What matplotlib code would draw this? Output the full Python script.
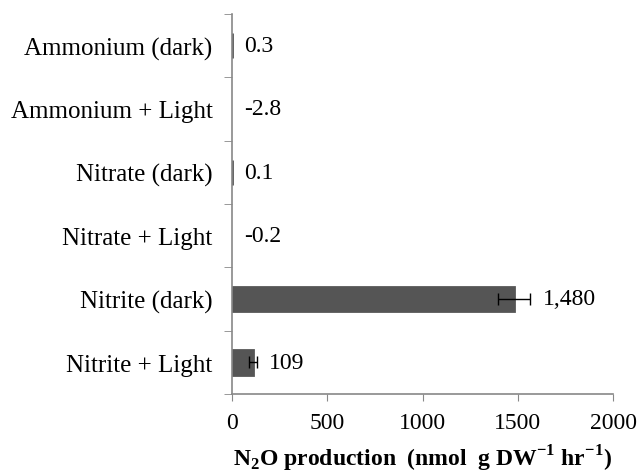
import matplotlib.pyplot as plt
import numpy as np

plt.switch_backend("Agg")

categories = ["Ammonium (dark)", "Ammonium + Light", "Nitrate (dark)",
              "Nitrate + Light", "Nitrite (dark)", "Nitrite + Light"]
values = [0.3, -2.8, 0.1, -0.2, 1480, 109]
errors = [0, 0, 0, 0, 85, 20]
value_labels = ["0.3", "-2.8", "0.1", "-0.2", "1,480", "109"]
x_ticks = [0, 500, 1000, 1500, 2000]

plt.rcParams["font.family"] = ["Liberation Serif", "DejaVu Serif"]
plt.rcParams["mathtext.fontset"] = "custom"
plt.rcParams["mathtext.rm"] = "Liberation Serif"
plt.rcParams["mathtext.bf"] = "Liberation Serif:bold"

fig = plt.figure(figsize=(6.4, 4.77), dpi=100)
ax = fig.add_axes([0.3625, 0.172, 0.5955, 0.797])

y = np.arange(len(categories))
bar_color = "#555555"
edges = [bar_color if v > 0 else "none" for v in values]
ax.barh(y, values, height=0.39, color=bar_color, edgecolor=edges, linewidth=2)
for yi, v, e in zip(y, values, errors):
    if e > 0:
        ax.errorbar(v, yi, xerr=e, fmt="none", ecolor="black", elinewidth=1,
                    capsize=4, capthick=1)

for yi, v, e, lab in zip(y, values, errors, value_labels):
    ax.annotate(lab, xy=(max(v, 0) + e, yi), xytext=(9, 0),
                textcoords="offset points", va="center", ha="left", fontsize=17)

ax.set_xlim(0, 2000)
ax.set_ylim(len(categories) - 0.5, -0.5)
ax.set_xticks(x_ticks)
ax.set_xticklabels([str(t) for t in x_ticks], fontsize=17)
ax.set_yticks(y)
ax.set_yticklabels(categories, fontsize=18)
ax.set_yticks(np.arange(-0.5, len(categories)), minor=True)
ax.tick_params(axis="y", which="major", length=0, pad=14)
ax.tick_params(axis="y", which="minor", length=6, color="#888888", direction="out")
ax.tick_params(axis="x", length=5, color="#888888", direction="out", pad=8)

for side in ["top", "right"]:
    ax.spines[side].set_visible(False)
for side in ["left", "bottom"]:
    ax.spines[side].set_color("#888888")
    ax.spines[side].set_linewidth(1.2)

ax.set_xlabel(r"N$_\mathbf{2}$O production  (nmol  g DW$^\mathbf{-1}$ hr$^\mathbf{-1}$)",
              fontsize=17, fontweight="bold", labelpad=7)

fig.savefig("out.png", dpi=100)
